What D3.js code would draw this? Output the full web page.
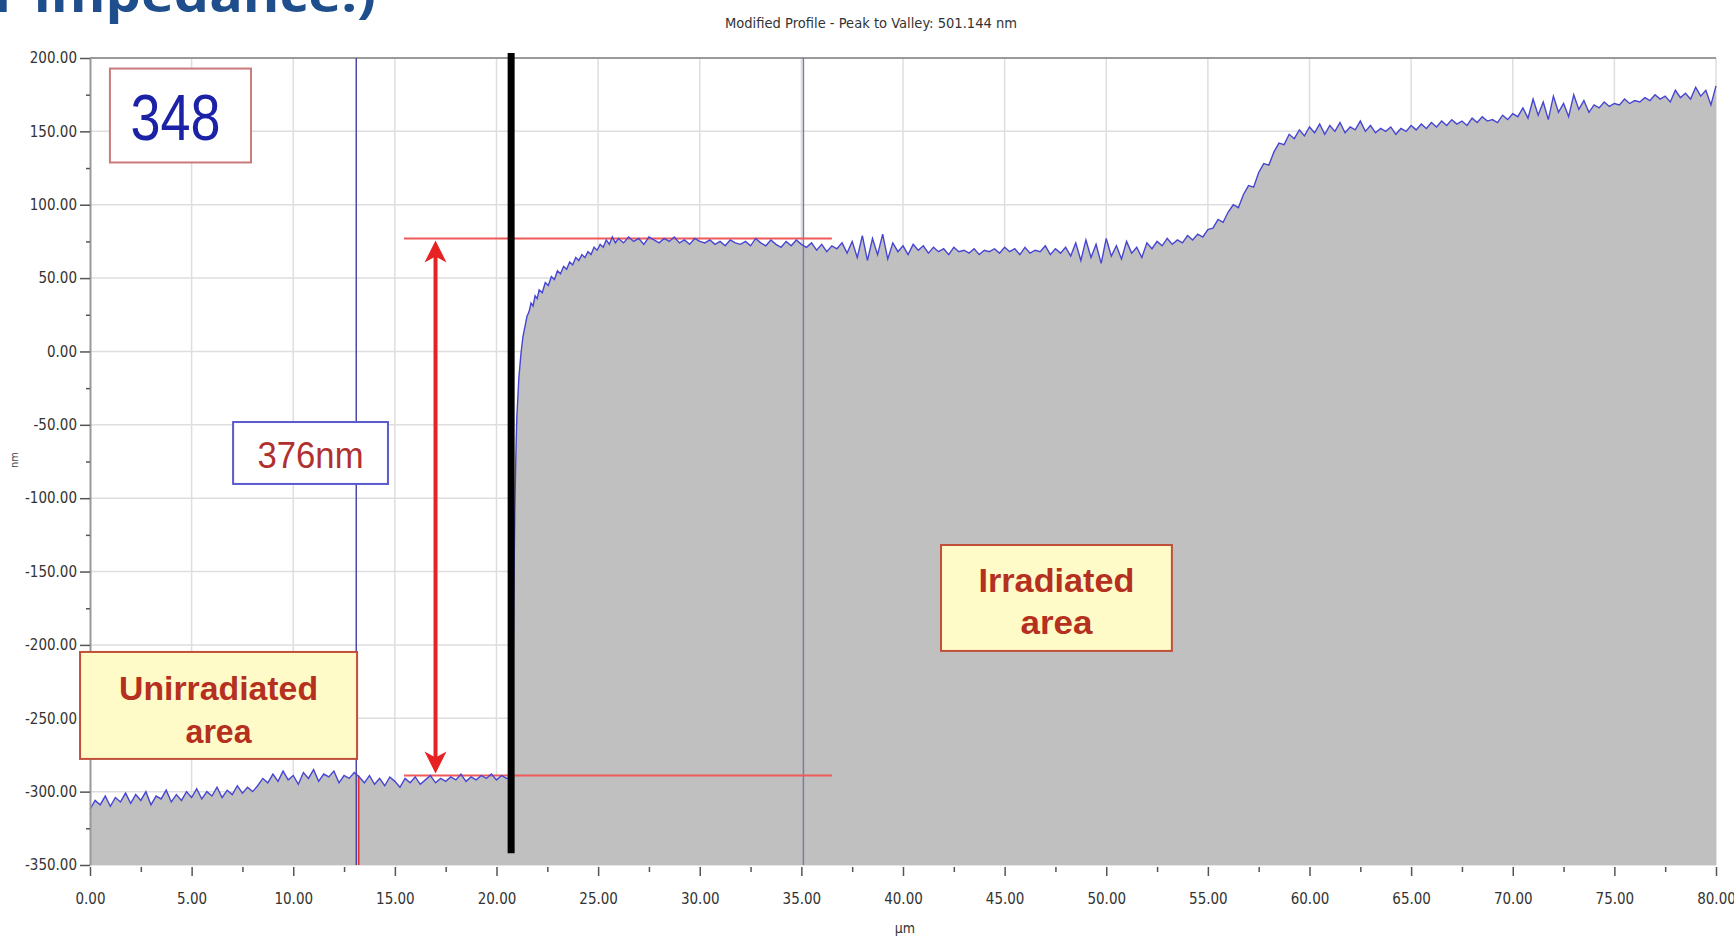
<!DOCTYPE html>
<meta charset="utf-8">
<style>
    html,
    body {
        margin: 0;
        padding: 0;
        background: #fff;
    }

    svg {
        display: block;
    }

    .axis text {
        font-family: "Liberation Sans Narrow", "DejaVu Sans Condensed", "Arial Narrow", sans-serif;
        font-size: 15px;
        fill: #333;
    }

    .grid line {
        stroke: #dedede;
        stroke-width: 1.5px;
    }
</style>
<svg id="canvas" width="1734" height="941"></svg>
<script src="https://d3js.org/d3.v7.min.js"></script>
<script>
    // profile samples, nm
    // left flat part: 0 .. 20.75 um, every 0.25 um
    var leftStartUm = 0;
    var leftNm = [
        -312, -306, -309, -303, -310, -304, -307, -301, -308, -302, -306, -300, -309, -303, -305, -299, -307, -302, -306, -300, -304,
        -298, -305, -300, -303, -297, -304, -299, -302, -296, -301, -297, -300,
        -296, -291, -294, -288, -293, -286, -292, -289, -295, -287, -291, -285, -293, -288, -290, -286, -294, -289, -291, -287,
        -290, -294, -289, -295, -291, -296, -290, -293, -297, -291, -294, -290, -295, -292, -289, -294, -291, -293, -290, -292,
        -288, -293, -290, -292, -289, -291, -288, -292, -289, -291, -290
    ];

    // the step edge, uneven spacing
    var edgeUm = [20.8, 20.85, 20.9, 20.95, 21.0, 21.1, 21.2, 21.3, 21.4, 21.5, 21.6, 21.7, 21.8, 21.9, 22.0, 22.1, 22.25, 22.4, 22.55, 22.7,
        22.85, 23.0, 23.15, 23.3, 23.45, 23.6, 23.75, 23.9, 24.05, 24.2, 24.35, 24.5, 24.65, 24.8, 24.95, 25.1, 25.25, 25.4, 25.55, 25.7, 25.85, 26.0];
    var edgeNm = [-240, -170, -110, -72, -45, -18, -2, 10, 17, 24, 27, 33, 31, 38, 36, 42, 40, 47, 45, 51,
        49, 55, 53, 58, 56, 61, 59, 64, 62, 66, 64, 68, 66, 71, 69, 73, 71, 76, 73, 78, 74, 77];

    // right part: 26.25 .. 80 um, every 0.25 um
    var rightStartUm = 26.25;
    var rightNm = [
        74, 78, 75, 77, 73, 78, 76, 74, 77, 75, 78, 74, 76, 73, 77, 75, 74, 76, 73, 75, 72, 76, 74, 73, 75, 72, 77, 74, 72, 76, 73, 71, 75, 72, 76, 73,
        71, 74, 69, 73, 68, 72, 70, 74,
        67, 75, 64, 79, 62, 77, 66, 80, 63, 74, 68, 72, 66, 73,
        69, 72, 67, 71, 68, 70, 66, 71, 68, 69, 67, 70, 66, 69, 68, 70, 67, 71,
        68, 70, 66, 71, 67, 69, 68, 72, 66, 70, 67, 71,
        65, 74, 62, 76, 64, 73, 60, 77, 65, 72, 63, 75, 67, 71, 64, 74,
        70, 75, 72, 77, 73, 76, 74, 79, 76, 80, 78, 83,
        84, 90, 88, 95, 100, 98, 107, 113, 112, 122, 128, 127, 136, 142, 141, 148,
        145, 151, 147, 153, 149, 155, 148, 154, 150, 156, 149, 153, 151, 157, 150, 154, 149, 152, 150, 153, 148, 152, 150, 154,
        151, 155, 152, 156, 153, 157, 154, 158, 155, 157, 154, 159, 156, 160, 157, 158, 156, 161, 158, 162,
        160, 166, 159, 172, 161, 170, 158, 174, 163, 169, 160, 175, 165, 171, 163, 168, 166, 170, 167, 169,
        168, 172, 169, 171, 170, 173, 171, 175, 172, 174, 170, 178, 173, 176, 172, 180, 174, 178, 168, 181
    ];
    var sampleStepUm = 0.25;

    // axes
    var xTicks = [0, 5, 10, 15, 20, 25, 30, 35, 40, 45, 50, 55, 60, 65, 70, 75, 80];
    var yTicks = [200, 150, 100, 50, 0, -50, -100, -150, -200, -250, -300, -350];

    // cursors and measured levels
    var cursorUm = [13.1, 35.1];
    var edgeMarkUm = 20.72;
    var levelNm = [77, -289];
    var levelFromUm = 15.45,
        levelToUm = 36.5;
    var arrowUm = 17.0;

    var titleText = "Modified Profile - Peak to Valley: 501.144 nm";

    var svg = d3.select("svg"),
        width = +svg.attr("width"),
        height = +svg.attr("height");

    var x = d3.scaleLinear().domain([0, 80]).range([90, 1716]);
    var y = d3.scaleLinear().domain([-350, 200]).range([865, 58]);

    var profile = leftNm.map(function(v, i) {
            return { x: leftStartUm + i * sampleStepUm, y: v };
        })
        .concat(edgeNm.map(function(v, i) {
            return { x: edgeUm[i], y: v };
        }))
        .concat(rightNm.map(function(v, i) {
            return { x: rightStartUm + i * sampleStepUm, y: v };
        }));

    // cut off heading from the slide above
    svg.append("text")
        .attr("x", -6)
        .attr("y", 12)
        .attr("textLength", 382)
        .attr("lengthAdjust", "spacingAndGlyphs")
        .style("font-family", "'Open Sans', 'Liberation Sans', sans-serif")
        .style("font-weight", "bold")
        .style("font-size", "50px")
        .style("fill", "#1f4e8c")
        .text("r impedance!)");

    svg.append("text")
        .attr("x", 871)
        .attr("y", 28)
        .attr("text-anchor", "middle")
        .attr("textLength", 292)
        .attr("lengthAdjust", "spacingAndGlyphs")
        .style("font-family", "'Liberation Sans Narrow', 'DejaVu Sans Condensed', sans-serif")
        .style("font-size", "14px")
        .style("fill", "#333")
        .text(titleText);

    // grid
    var grid = svg.append("g").attr("class", "grid");
    grid.selectAll(".gx")
        .data(xTicks.slice(1))
        .enter().append("line")
        .attr("x1", function(d) { return x(d); })
        .attr("x2", function(d) { return x(d); })
        .attr("y1", y(200))
        .attr("y2", y(-350));
    grid.selectAll(".gy")
        .data(yTicks.slice(1))
        .enter().append("line")
        .attr("x1", x(0))
        .attr("x2", x(80))
        .attr("y1", function(d) { return y(d); })
        .attr("y2", function(d) { return y(d); });

    // filled profile
    var area = d3.area()
        .x(function(d) { return x(d.x); })
        .y0(y(-350))
        .y1(function(d) { return y(d.y); });

    svg.append("path")
        .datum(profile)
        .attr("d", area)
        .style("fill", "#c0c0c0");

    // top frame line
    svg.append("line")
        .attr("x1", x(0)).attr("x2", x(80))
        .attr("y1", y(200)).attr("y2", y(200))
        .style("stroke", "#9a9a9a")
        .style("stroke-width", 2);

    // cursors
    svg.selectAll(".cursor")
        .data(cursorUm)
        .enter().append("line")
        .attr("x1", function(d) { return x(d); })
        .attr("x2", function(d) { return x(d); })
        .attr("y1", y(200))
        .attr("y2", y(-350))
        .style("stroke", function(d, i) { return i === 0 ? "#4b4ba6" : "#7a7aa8"; })
        .style("stroke-width", 1.5);

    svg.append("line")
        .attr("x1", x(cursorUm[0]) + 2.5).attr("x2", x(cursorUm[0]) + 2.5)
        .attr("y1", y(levelNm[1])).attr("y2", y(-350))
        .style("stroke", "#e03030")
        .style("stroke-width", 1.5);

    // measured levels
    svg.selectAll(".level")
        .data(levelNm)
        .enter().append("line")
        .attr("x1", x(levelFromUm))
        .attr("x2", x(levelToUm))
        .attr("y1", function(d) { return y(d); })
        .attr("y2", function(d) { return y(d); })
        .style("stroke", "#f05a5a")
        .style("stroke-width", 2);

    // profile line
    var line = d3.line()
        .x(function(d) { return x(d.x); })
        .y(function(d) { return y(d.y); });

    svg.append("path")
        .datum(profile)
        .attr("d", line)
        .style("fill", "none")
        .style("stroke", "#4646d2")
        .style("stroke-width", 1.4);

    // black edge marker
    svg.append("line")
        .attr("x1", x(edgeMarkUm)).attr("x2", x(edgeMarkUm))
        .attr("y1", y(200) - 5).attr("y2", y(-342))
        .style("stroke", "#000")
        .style("stroke-width", 7);

    // double arrow
    var ax = x(arrowUm),
        aTop = y(levelNm[0]) + 2,
        aBot = y(levelNm[1]) - 2;
    svg.append("line")
        .attr("x1", ax).attr("x2", ax)
        .attr("y1", aTop + 14).attr("y2", aBot - 14)
        .style("stroke", "#e62222")
        .style("stroke-width", 4);
    svg.append("path")
        .attr("d", "M" + ax + "," + aTop + "L" + (ax - 11) + "," + (aTop + 22) + "L" + ax + "," + (aTop + 16) + "L" + (ax + 11) + "," + (aTop + 22) + "Z")
        .style("fill", "#e62222");
    svg.append("path")
        .attr("d", "M" + ax + "," + aBot + "L" + (ax - 11) + "," + (aBot - 22) + "L" + ax + "," + (aBot - 16) + "L" + (ax + 11) + "," + (aBot - 22) + "Z")
        .style("fill", "#e62222");

    // axes
    var fmt = function(d) { return d.toFixed(2); };

    var yAxis = svg.append("g")
        .attr("class", "axis")
        .attr("transform", "translate(" + x(0) + ",0)")
        .call(d3.axisLeft(y).tickValues(yTicks).tickSize(10).tickSizeOuter(0).tickPadding(3).tickFormat(fmt));
    yAxis.select(".domain").style("stroke", "#999").style("stroke-width", 2);
    yAxis.selectAll(".tick line").style("stroke", "#555").style("stroke-width", 1.5);

    var yMinor = svg.append("g")
        .attr("transform", "translate(" + x(0) + ",0)")
        .call(d3.axisLeft(y).tickValues(yTicks.slice(1).map(function(d) { return d + 25; })).tickSize(4).tickFormat(""));
    yMinor.select(".domain").remove();
    yMinor.selectAll(".tick line").style("stroke", "#555").style("stroke-width", 1.5);

    var xAxis = svg.append("g")
        .attr("class", "axis")
        .attr("transform", "translate(0," + (y(-350) + 2) + ")")
        .call(d3.axisBottom(x).tickValues(xTicks).tickSize(9).tickSizeOuter(0).tickPadding(17).tickFormat(fmt));
    xAxis.select(".domain").remove();
    xAxis.selectAll(".tick line").style("stroke", "#555").style("stroke-width", 1.5);

    var xMinor = svg.append("g")
        .attr("transform", "translate(0," + (y(-350) + 2) + ")")
        .call(d3.axisBottom(x).tickValues(xTicks.slice(1).map(function(d) { return d - 2.5; })).tickSize(5).tickFormat(""));
    xMinor.select(".domain").remove();
    xMinor.selectAll(".tick line").style("stroke", "#555").style("stroke-width", 1.5);

    svg.append("text")
        .attr("transform", "translate(18,460) rotate(-90)")
        .attr("text-anchor", "middle")
        .style("font-family", "'DejaVu Sans Condensed', sans-serif")
        .style("font-size", "11px")
        .style("fill", "#444")
        .text("nm");

    svg.append("text")
        .attr("x", 905)
        .attr("y", 933)
        .attr("text-anchor", "middle")
        .style("font-family", "'DejaVu Sans Condensed', sans-serif")
        .style("font-size", "14px")
        .style("fill", "#333")
        .text("µm");

    // annotation boxes, corners in data units
    var notes = [
        { x0: 0.98, x1: 7.92, y0: 192.8, y1: 128.8, stroke: "#c97b7b", fill: "#fff", color: "#1b22a6", weight: "normal", size: 64,
            lines: [{ t: "348", dy: 71.5, w: 90, dx: -5 }] },
        { x0: 7.04, x1: 14.66, y0: -48.1, y1: -90.3, stroke: "#5a5ad0", fill: "#fff", color: "#b03030", weight: "normal", size: 36,
            lines: [{ t: "376nm", dy: 46, w: 106, dx: 0 }] },
        { x0: -0.49, x1: 13.14, y0: -204.8, y1: -277.7, stroke: "#c0503a", fill: "#fffbc8", color: "#b5301e", weight: "bold", size: 34,
            lines: [{ t: "Unirradiated", dy: 48, w: 199, dx: 0 }, { t: "area", dy: 91, w: 66, dx: 0 }] },
        { x0: 41.87, x1: 53.23, y0: -131.9, y1: -204.1, stroke: "#c0503a", fill: "#fffbc8", color: "#b5301e", weight: "bold", size: 34,
            lines: [{ t: "Irradiated", dy: 47, w: 156, dx: 0 }, { t: "area", dy: 89, w: 72, dx: 0 }] }
    ];

    var note = svg.selectAll(".note")
        .data(notes)
        .enter().append("g")
        .attr("class", "note");

    note.append("rect")
        .attr("x", function(d) { return x(d.x0); })
        .attr("y", function(d) { return y(d.y0); })
        .attr("width", function(d) { return x(d.x1) - x(d.x0); })
        .attr("height", function(d) { return y(d.y1) - y(d.y0); })
        .style("fill", function(d) { return d.fill; })
        .style("stroke", function(d) { return d.stroke; })
        .style("stroke-width", 2);

    note.each(function(d) {
        var g = d3.select(this);
        var cx = (x(d.x0) + x(d.x1)) / 2;
        d.lines.forEach(function(l) {
            g.append("text")
                .attr("x", cx + l.dx)
                .attr("y", y(d.y0) + l.dy)
                .attr("text-anchor", "middle")
                .attr("textLength", l.w)
                .attr("lengthAdjust", "spacingAndGlyphs")
                .style("font-family", "'Liberation Sans Narrow', 'Liberation Sans', Arimo, sans-serif")
                .style("font-weight", d.weight)
                .style("font-size", d.size + "px")
                .style("fill", d.color)
                .text(l.t);
        });
    });
</script>
